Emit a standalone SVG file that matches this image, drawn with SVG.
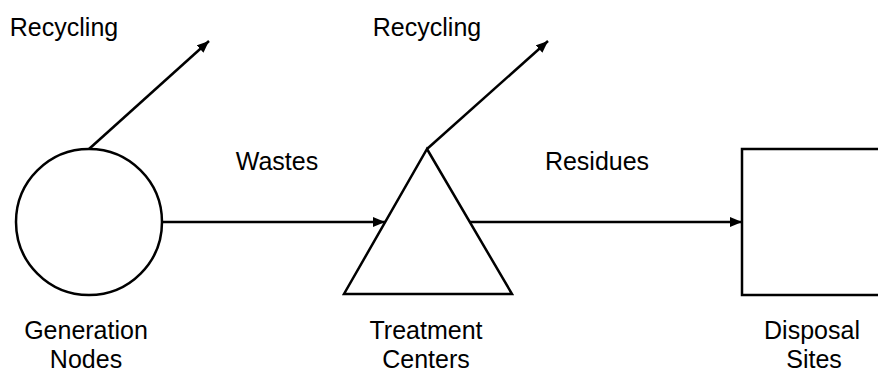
<svg xmlns="http://www.w3.org/2000/svg" width="878" height="374" viewBox="0 0 878 374">
<style>
.s{fill:#fff;stroke:#000;stroke-width:2.5}
.c{fill:none;stroke:#000;stroke-width:2.5}
text{font-family:"Liberation Sans",Arial,sans-serif;font-size:25px;fill:#000;text-anchor:middle}
</style>
<defs>
<marker id="a" viewBox="0 0 12 10" refX="12" refY="5" markerWidth="12" markerHeight="10" markerUnits="userSpaceOnUse" orient="auto">
<path d="M0,0 L12,5 L0,10 Z" fill="#000"/>
</marker>
</defs>
<rect width="878" height="374" fill="#fff"/>
<g id="connectors">
<line class="c" x1="89" y1="149" x2="209" y2="41" marker-end="url(#a)"/>
<line class="c" x1="162" y1="222" x2="385" y2="222" marker-end="url(#a)"/>
<line class="c" x1="427" y1="149" x2="548" y2="41" marker-end="url(#a)"/>
<line class="c" x1="469" y1="222" x2="742" y2="222" marker-end="url(#a)"/>
<text x="64" y="36">Recycling</text>
<text x="277" y="170">Wastes</text>
<text x="427" y="36">Recycling</text>
<text x="597" y="170">Residues</text>
</g>
<g id="generation">
<circle class="s" cx="89" cy="222" r="73"/>
<text x="86" y="339">Generation</text>
<text x="86" y="368">Nodes</text>
</g>
<g id="treatment">
<path class="s" d="M427,149 L512,294 L344,294 Z"/>
<text x="426" y="339">Treatment</text>
<text x="426" y="368">Centers</text>
</g>
<g id="disposal">
<rect class="s" x="742" y="149" width="150" height="146"/>
<text x="812" y="339">Disposal</text>
<text x="814" y="368">Sites</text>
</g>
</svg>
